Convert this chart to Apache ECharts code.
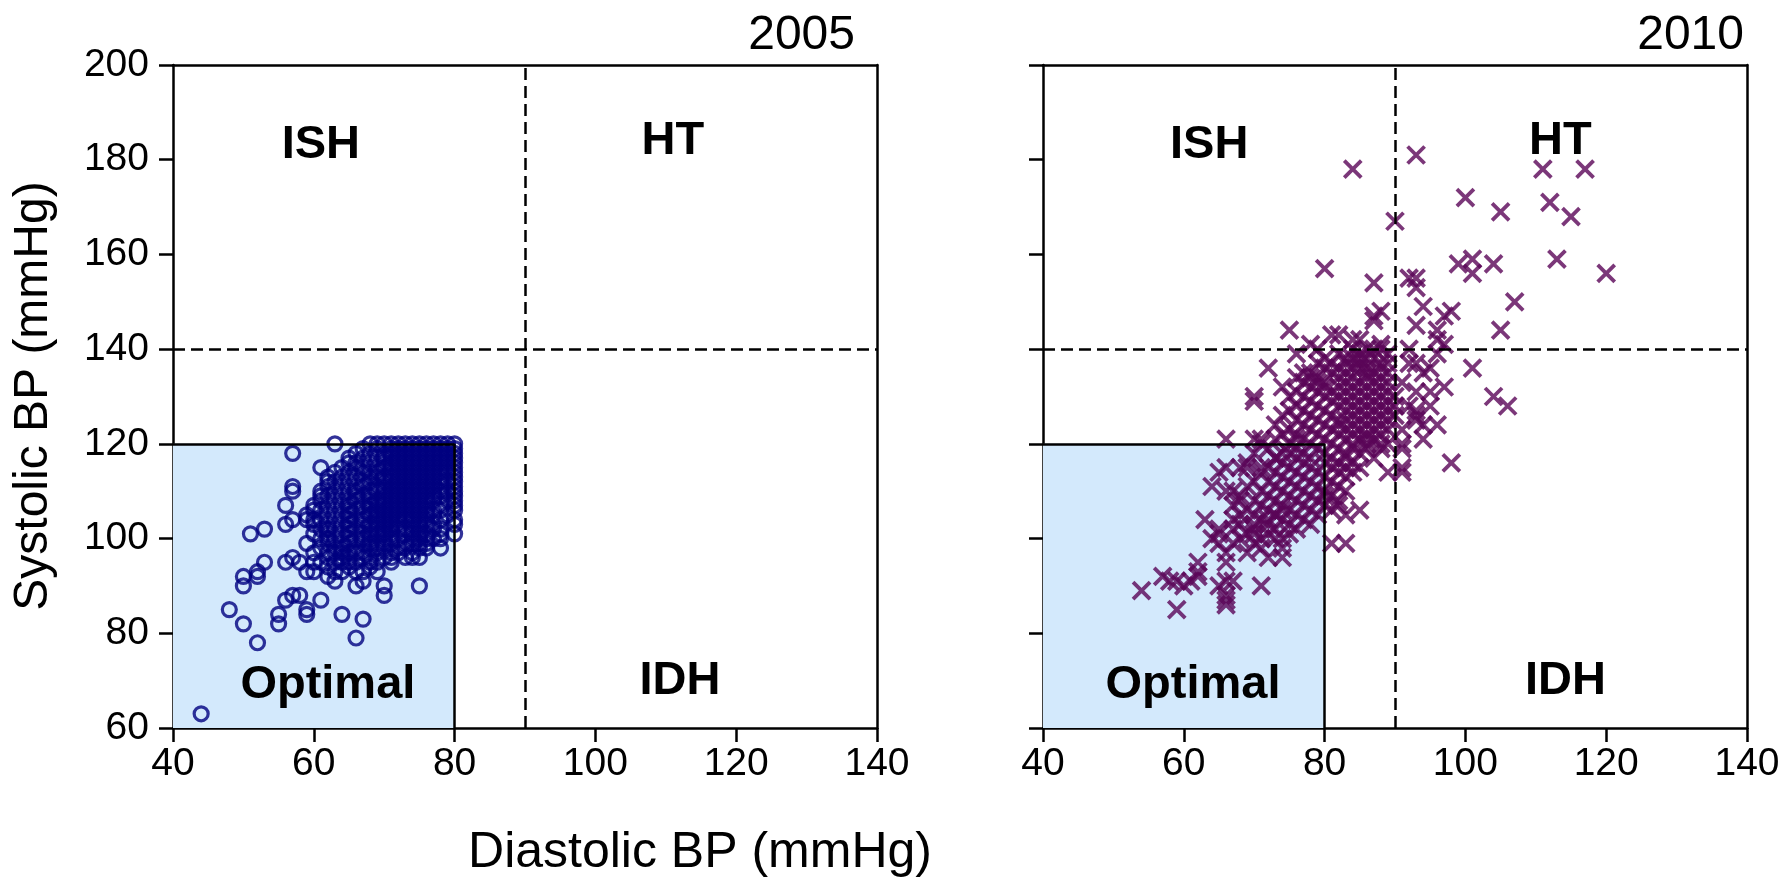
<!DOCTYPE html>
<html>
<head>
<meta charset="utf-8">
<script src="https://cdn.jsdelivr.net/npm/echarts@6/dist/echarts.min.js"></script>
<style>
html,body{margin:0;padding:0;background:#fff;}
#chart{width:1783px;height:879px;}
</style>
</head>
<body>
<div id="chart"></div>
<script>
// ---------- data ----------
const PANEL_TITLES = ['2005', '2010'];
const X_TICKS = [40, 60, 80, 100, 120, 140];
const Y_TICKS = [60, 80, 100, 120, 140, 160, 180, 200];
const X_NAME = 'Diastolic BP (mmHg)';
const Y_NAME = 'Systolic BP (mmHg)';
const REGION_NAMES = ['ISH', 'HT', 'Optimal', 'IDH'];
const REGION_ANCHORS_2005 = [[61, 183], [111, 184], [62, 69], [112, 70]];
const REGION_ANCHORS_2010 = [[63.6, 183], [113.5, 184], [61.3, 69], [114.2, 70]];
const OPTIMAL_BOX = [40, 60, 80, 120];   // xmin, ymin, xmax, ymax
const DIA_CUT = 90;
const SYS_CUT = 140;

// 2005: isolated points
const SPARSE_2005 = [[44,63],[52,78],[50,82],[48,85],[55,82],[55,84],[59,84],[59,85],[64,84],[67,83],[66,79],
  [75,90],[70,90],[70,88],[50,92],[50,90],[52,93],[52,92],[53,95],[51,101],[53,102],[57,118],[63,120],[61,115],
  [57,111],[57,110],[56,107],[56,103],[57,104],[59,104],[59,99],[56,95],[57,96],[58,95],[56,87],[57,88],[58,88],
  [61,87],[60,97],[60,95],[60,93],[59,93],[62,92],[66,90],[67,93],[67,91],[64,93],[63,91],[65,95],[64,97],
  [66,93],[69,93],[68,95],[76,98],[78,98],[74,96],[75,96],[80,101],[80,103]];
// 2005: dense cluster, rows of [systolic, [diastolic values]]
const ROWS_2005 = [
  [120,[68,69,70,71,72,73,74,75,76,77,78,79,80]],
  [119,[67,69,71,72,73,74,75,76,77,78,79,80]],
  [118,[66,68,70,71,72,73,74,75,76,77,78,79,80]],
  [117,[65,67,69,70,71,72,73,74,75,76,77,78,79,80]],
  [116,[65,66,68,70,71,72,73,74,75,76,77,78,79,80]],
  [115,[64,66,67,69,70,71,72,73,74,75,76,77,78,79,80]],
  [114,[63,65,67,68,69,71,72,73,74,75,76,77,78,79,80]],
  [113,[62,64,66,68,69,70,71,72,73,74,75,76,77,78,80]],
  [112,[62,63,65,67,68,70,71,72,73,74,75,76,77,78,79,80]],
  [111,[62,64,66,67,69,70,71,72,73,74,75,76,77,78,80]],
  [110,[61,63,65,66,68,69,70,71,72,73,74,75,76,77,78,79,80]],
  [109,[61,62,64,66,67,68,70,71,72,73,74,75,76,77,78,80]],
  [108,[61,63,65,66,68,69,70,71,72,73,74,75,76,77,79,80]],
  [107,[60,62,64,65,67,68,69,70,71,72,73,74,75,76,78,80]],
  [106,[60,61,63,65,66,68,69,70,71,72,73,74,75,76,77,78,80]],
  [105,[59,62,64,65,67,68,69,70,71,72,73,74,75,76,77,79]],
  [104,[60,61,63,65,66,67,69,70,71,72,73,74,75,76,78,80]],
  [103,[60,62,64,65,67,68,69,70,71,72,74,75,76,77]],
  [102,[61,62,63,65,66,68,69,70,71,72,73,74,75,77,78]],
  [101,[60,62,64,65,67,68,69,70,71,73,74,75,76,78]],
  [100,[61,62,63,65,66,67,68,70,71,72,74,75,76,77,78]],
  [99,[62,64,65,67,68,69,70,71,73,74,75,76]],
  [98,[61,63,64,66,68,69,70,72,73,75]],
  [97,[62,63,65,66,67,69,71,72,74]],
  [96,[62,64,65,67,68,70,71,73]],
  [95,[61,63,64,66,69,71]],
  [94,[62,65,68]],
  [93,[63]]
];

// 2010: isolated points
const SPARSE_2010 = [[54,89],[57,92],[58,91],[59,85],[59,91],[60,90],[61,91],[62,93],[62,95],[62,92],[63,104],
  [64,100],[65,102],[66,97],[66,95],[65,90],[66,91],[67,91],[66,88],[66,86],[66,87],[71,90],[64,111],[65,114],
  [66,115],[68,115],[69,116],[66,110],[67,110],[68,108],[66,121],[70,121],[71,120],[74,118],[73,117],[69,97],
  [71,98],[73,100],[74,98],[74,96],[72,96],[70,101],[65,99],[65,101],[70,103],[72,104],[73,105],[74,106],
  [81,99],[83,99],[80,109],[82,107],[83,105],[85,106],[69,115],[71,115],[70,118],[70,130],[70,129],[72,136],
  [74,132],[75,130],[75,144],[76,139],[78,141],[79,140],[81,143],[82,143],[84,142],[85,142],[88,141],[80,157],
  [84,178],[90,167],[87,154],[88,148],[87,146],[87,147],[93,181],[111,178],[117,178],[100,172],[105,169],
  [112,171],[115,168],[99,158],[101,159],[101,156],[104,158],[113,159],[120,156],[107,150],[105,144],[92,155],
  [93,155],[93,153],[94,149],[93,145],[97,147],[98,148],[96,144],[96,142],[97,141],[96,139],[101,136],[104,130],
  [106,128],[97,132],[95,128],[93,126],[93,137],[95,136],[93,127],[93,125],[94,121],[91,120],[98,116],[91,119],
  [91,115],[89,114],[87,117],[85,115],[92,137],[94,135],[93,131],[95,131],[94,124],[96,124],[79,134],[80,133],
  [82,136],[83,138],[85,138],[77,135],[85,136],[86,135],[87,138],[88,137],[78,134],[81,137],[87,140],[74,122],
  [76,121],[73,121],[71,121],[88,119],[88,120],[86,121],[91,114],[92,140],[91,133],[92,128],[91,123]];
// 2010: dense core, rows of [systolic, [diastolic values]]
const ROWS_2010 = [
  [140,[84,86,88]],
  [139,[82,85,89]],
  [138,[80,84,86]],
  [137,[79,83,85,89]],
  [136,[80,84,86,88]],
  [135,[78,81,83,87,89]],
  [134,[76,82,84,86,88]],
  [133,[77,79,83,85,87,89]],
  [132,[78,80,82,84,86,88]],
  [131,[76,79,81,83,85,87,89]],
  [130,[77,80,82,84,86,88,90]],
  [129,[78,81,83,85,87,89]],
  [128,[76,79,82,84,86,88,90]],
  [127,[75,77,80,83,85,87,89]],
  [126,[74,78,81,84,86,88,90]],
  [125,[76,79,82,83,85,87,89]],
  [124,[73,77,80,82,84,86,88]],
  [123,[75,78,81,83,85,87,89]],
  [122,[76,79,82,84,86,88]],
  [121,[77,80,83,85,87]],
  [120,[75,78,81,84,86,89]],
  [119,[72,76,79,82,84,86]],
  [118,[75,77,80,83,85]],
  [117,[73,76,78,81,83]],
  [116,[74,77,80,82,84]],
  [115,[72,75,78,81,83]],
  [114,[71,73,76,79,82,84]],
  [113,[74,77,80,83]],
  [112,[70,72,75,78,81]],
  [111,[69,73,76,79,82]],
  [110,[71,74,77,80,83]],
  [109,[68,72,75,78,81]],
  [108,[70,73,76,79,82]],
  [107,[67,71,74,77,80]],
  [106,[69,72,75,78,81]],
  [105,[68,70,73,76,79]],
  [104,[67,71,74,77]],
  [103,[68,72,75,78]],
  [102,[67,70,73,76]],
  [101,[69,72,75]],
  [100,[68,71,74]],
  [99,[67,70]]
];

// ---------- build ----------
function expandRows(rows) {
  const out = [];
  rows.forEach(r => r[1].forEach(x => out.push([x, r[0]])));
  return out;
}
const DATA_2005 = SPARSE_2005.concat(expandRows(ROWS_2005));
const DATA_2010 = SPARSE_2010.concat(expandRows(ROWS_2010));

const FONT = 'Liberation Sans';
const TICK_FONT = 39;
const GRIDS = [
  { left: 173, top: 65, width: 704, height: 663 },
  { left: 1043, top: 65, width: 704, height: 663 }
];

function mainX(gi) {
  return {
    type: 'value', gridIndex: gi, position: 'bottom',
    min: X_TICKS[0], max: X_TICKS[X_TICKS.length - 1], interval: X_TICKS[1] - X_TICKS[0],
    axisLine: { show: true, onZero: false, lineStyle: { color: '#000', width: 2.5 } },
    axisTick: { show: true, length: 14, lineStyle: { color: '#000', width: 2.5 } },
    axisLabel: { show: true, color: '#000', fontSize: TICK_FONT, fontFamily: FONT, margin: 17 },
    splitLine: { show: false }
  };
}
function frameX(gi) {
  return {
    type: 'value', gridIndex: gi, position: 'top',
    min: X_TICKS[0], max: X_TICKS[X_TICKS.length - 1],
    axisLine: { show: true, onZero: false, lineStyle: { color: '#000', width: 2.5 } },
    axisTick: { show: false }, axisLabel: { show: false }, splitLine: { show: false }
  };
}
function mainY(gi, labels) {
  return {
    type: 'value', gridIndex: gi, position: 'left',
    min: Y_TICKS[0], max: Y_TICKS[Y_TICKS.length - 1], interval: Y_TICKS[1] - Y_TICKS[0],
    axisLine: { show: true, onZero: false, lineStyle: { color: '#000', width: 2.5 } },
    axisTick: { show: true, length: 14, lineStyle: { color: '#000', width: 2.5 } },
    axisLabel: { show: labels, color: '#000', fontSize: TICK_FONT, fontFamily: FONT, margin: 24 },
    splitLine: { show: false }
  };
}
function frameY(gi) {
  return {
    type: 'value', gridIndex: gi, position: 'right',
    min: Y_TICKS[0], max: Y_TICKS[Y_TICKS.length - 1],
    axisLine: { show: true, onZero: false, lineStyle: { color: '#000', width: 2.5 } },
    axisTick: { show: false }, axisLabel: { show: false }, splitLine: { show: false }
  };
}

function panelSeries(gi, data, pointStyle) {
  const xi = gi * 2, yi = gi * 2;
  const b = OPTIMAL_BOX;
  return [
    {
      type: 'scatter', xAxisIndex: xi, yAxisIndex: yi, z: 1, silent: true,
      symbolSize: 0, data: [[b[0], b[1]]],
      markArea: {
        silent: true,
        itemStyle: { color: '#d3e9fc' },
        data: [[{ coord: [b[0], b[1]] }, { coord: [b[2], b[3]] }]]
      }
    },
    Object.assign({
      type: 'scatter', xAxisIndex: xi, yAxisIndex: yi, z: 2, silent: true,
      data: data
    }, pointStyle),
    {
      type: 'scatter', xAxisIndex: xi, yAxisIndex: yi, z: 3, silent: true,
      symbolSize: 0, data: [[b[0], b[1]]],
      markLine: {
        silent: true, symbol: ['none', 'none'], label: { show: false },
        animation: false,
        data: [
          { xAxis: DIA_CUT, lineStyle: { color: '#000', width: 2.5, type: [12, 6] } },
          { yAxis: SYS_CUT, lineStyle: { color: '#000', width: 2.5, type: [12, 6] } },
          [{ coord: [b[0], b[3]], lineStyle: { color: '#000', width: 2.5, type: 'solid' } }, { coord: [b[2], b[3]] }],
          [{ coord: [b[2], b[1]], lineStyle: { color: '#000', width: 2.5, type: 'solid' } }, { coord: [b[2], b[3]] }]
        ]
      }
    }
  ];
}

const circleStyle = {
  symbol: 'circle', symbolSize: 14,
  itemStyle: { color: 'rgba(0,0,0,0)', borderColor: '#000080', borderWidth: 3.2 }
};
const crossStyle = {
  symbol: 'path://M0,0L10,10M10,0L0,10', symbolSize: 17, symbolKeepAspect: true,
  itemStyle: { color: 'rgba(0,0,0,0)', borderColor: '#5a0558', borderWidth: 3.8 }
};

const chart = echarts.init(document.getElementById('chart'), null, { renderer: 'canvas' });
chart.setOption({
  animation: false,
  backgroundColor: '#fff',
  grid: GRIDS,
  xAxis: [mainX(0), frameX(0), mainX(1), frameX(1)],
  yAxis: [mainY(0, true), frameY(0), mainY(1, false), frameY(1)],
  series: [].concat(
    panelSeries(0, DATA_2005, circleStyle),
    panelSeries(1, DATA_2010, crossStyle)
  )
});

// region labels placed through the chart's own scales
const regionText = [];
[[REGION_ANCHORS_2005, 0], [REGION_ANCHORS_2010, 1]].forEach(([anchors, gi]) => {
  anchors.forEach((p, i) => {
    const px = chart.convertToPixel({ xAxisIndex: gi * 2, yAxisIndex: gi * 2 }, p);
    regionText.push({
      type: 'text', x: px[0], y: px[1], z: 10,
      style: { text: REGION_NAMES[i], fontSize: 47, fontWeight: 'bold', fontFamily: FONT,
               fill: '#000', align: 'center', verticalAlign: 'middle' }
    });
  });
});

chart.setOption({
  graphic: regionText.concat([
    { type: 'text', x: 855, y: 36,
      style: { text: PANEL_TITLES[0], fontSize: 48, fontFamily: FONT, fill: '#000', align: 'right', verticalAlign: 'middle' } },
    { type: 'text', x: 1744, y: 36,
      style: { text: PANEL_TITLES[1], fontSize: 48, fontFamily: FONT, fill: '#000', align: 'right', verticalAlign: 'middle' } },
    { type: 'text', x: 700, y: 853,
      style: { text: X_NAME, fontSize: 50, fontFamily: FONT, fill: '#000', align: 'center', verticalAlign: 'middle' } },
    { type: 'text', x: 34, y: 396, rotation: Math.PI / 2,
      style: { text: Y_NAME, fontSize: 48, fontFamily: FONT, fill: '#000', align: 'center', verticalAlign: 'middle' } }
  ])
});
</script>
</body>
</html>
